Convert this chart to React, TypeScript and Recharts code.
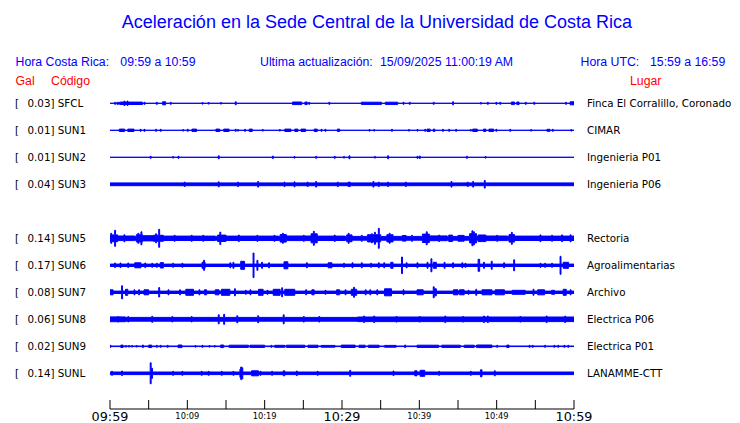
import { ComposedChart, Area, XAxis, YAxis } from "recharts";

type Spike = [number, number];
type Burst = [number, number, number];

// stations, top to bottom (SUN4 slot is empty)
const CODES = ["SFCL", "SUN1", "SUN2", "SUN3", "SUN5", "SUN6", "SUN7", "SUN8", "SUN9", "SUNL"];
const PEAK_GAL = ["0.03", "0.01", "0.01", "0.04", "0.14", "0.17", "0.08", "0.06", "0.02", "0.14"];
const PLACES = [
  "Finca El Corralillo, Coronado",
  "CIMAR",
  "Ingenieria P01",
  "Ingenieria P06",
  "Rectoria",
  "Agroalimentarias",
  "Archivo",
  "Electrica P06",
  "Electrica P01",
  "LANAMME-CTT",
];
// background noise half-width of each trace
const BASE_NOISE = [0, 0, 0, 1.4, 1.9, 1.2, 1.2, 1.9, 0.3, 1.3];

// [minute, half amplitude]
const SFCL_SPIKES: Spike[] = [[0.6, 1], [0.9, 1], [1.1, 1], [1.8, 2.2], [2.2, 2.2], [4.4, 1], [6.0, 1], [7.8, 1], [11.9, 0.8], [12.7, 0.8], [14.3, 0.8], [16.2, 1.5], [25.7, 1], [28.3, 1], [37.9, 1], [38.7, 1], [41.8, 1], [44.3, 1.5], [47.9, 0.8], [48.8, 1], [49.9, 1], [50.4, 1], [53.7, 1], [54.8, 1], [58.9, 1]];
const SUN1_SPIKES: Spike[] = [[3.9, 1], [4.4, 1], [5.9, 1], [6.5, 1], [9.4, 0.8], [10.0, 1], [16.2, 1], [16.5, 0.8], [17.4, 1], [19.7, 0.8], [21.9, 0.8], [27.3, 1], [27.8, 1], [33.5, 0.8], [34.1, 0.8], [36.4, 1], [38.6, 0.8], [39.7, 0.8], [40.7, 1], [43.0, 1], [43.8, 1], [44.7, 1], [46.6, 0.8], [49.9, 1], [51.7, 1], [54.4, 0.8], [57.2, 1], [59.6, 0.8]];
const SUN2_SPIKES: Spike[] = [[5.2, 1], [8.1, 0.8], [8.8, 1], [14.0, 1.5], [21.0, 1.2], [23.8, 0.8], [26.6, 1], [29.0, 1], [30.2, 0.8], [30.9, 1.5], [34.2, 0.8], [35.9, 1.5], [39.7, 1], [40.0, 1.2], [46.1, 1], [48.5, 0.8]];
const SUN3_SPIKES: Spike[] = [[9.6, 2.2], [14.0, 2.5], [16.5, 2.2], [19.1, 2.8], [22.5, 2.2], [23.8, 2.5], [25.5, 2.2], [26.6, 2.8], [29.4, 2.2], [30.8, 2.2], [30.95, 2.2], [34.0, 2.8], [34.7, 2.2], [35.9, 2.2], [38.2, 2.2], [44.1, 2.8], [46.2, 2.2], [46.9, 2.8], [48.4, 3.8]];
const SUN5_SPIKES: Spike[] = [[0.1, 5], [0.6, 8], [1.8, 3.5], [3.6, 5], [4.0, 6.5], [5.9, 4.5], [6.3, 9], [8.3, 3], [10.5, 3], [12.0, 3], [14.2, 6.2], [16.6, 3.3], [19.0, 3], [21.2, 3], [22.3, 5], [25.0, 3], [26.3, 7], [29.0, 3.2], [30.8, 5], [32.5, 3], [33.8, 4.5], [34.2, 6], [34.7, 10], [36.1, 5], [39.0, 3], [40.9, 6.5], [42.5, 3.2], [46.8, 7.5], [47.0, 6.5], [50.0, 3], [51.9, 6], [55.6, 3.4], [57.1, 3], [58.4, 3.4], [59.5, 3.5]];
const SUN6_SPIKES: Spike[] = [[0.6, 2.3], [1.3, 2.3], [2.3, 2.3], [4.5, 2.3], [5.4, 2], [6.0, 2], [8.1, 2], [9.3, 2], [12.1, 5], [15.5, 2.5], [15.9, 3], [18.5, 12.3], [19.0, 5], [19.6, 3], [20.5, 2.5], [25.4, 2.5], [30.2, 2], [31.3, 2.5], [32.5, 2.5], [33.7, 2], [34.7, 2.5], [35.4, 2.5], [37.7, 8.3], [38.3, 2.5], [39.7, 2.5], [41.0, 3], [41.5, 6.5], [43.2, 3], [44.3, 2.5], [45.5, 2.5], [45.9, 2], [48.3, 3], [49.3, 4], [50.9, 2.5], [52.2, 5.5], [55.6, 2], [56.2, 2], [57.1, 2], [58.2, 9]];
const SUN7_SPIKES: Spike[] = [[1.5, 6.5], [3.1, 2.5], [3.7, 2.5], [6.3, 4.7], [7.5, 2.5], [9.0, 2.5], [11.5, 2.5], [16.1, 3.5], [17.5, 2], [18.1, 2.5], [20.3, 2], [22.2, 4.5], [25.3, 2.5], [27.8, 2], [29.5, 2.5], [30.4, 2.5], [31.5, 5], [33.0, 2.5], [33.6, 2.5], [34.5, 2.5], [37.9, 2.5], [41.8, 5.5], [46.3, 2], [47.3, 3], [54.7, 3], [59.5, 2.5]];
const SUN8_SPIKES: Spike[] = [[1.0, 2.8], [2.3, 2.7], [5.4, 3], [8.0, 2.7], [10.5, 2.7], [14.0, 4.5], [14.7, 5], [16.4, 3.5], [19.1, 3.5], [22.4, 4.5], [25.0, 2.8], [27.0, 2.8], [32.8, 3.2], [34.1, 3.3], [37.0, 2.8], [40.0, 2.8], [43.3, 3.3], [45.6, 2.8], [48.3, 3.3], [48.8, 3.3], [53.0, 2.8], [56.4, 3.3], [58.8, 3.2]];
const SUN9_SPIKES: Spike[] = [[0, 1], [2.0, 0.8], [2.4, 0.8], [2.8, 0.8], [3.4, 0.8], [4.2, 1.3], [6.0, 1], [6.5, 1], [7.4, 1], [11.0, 0.8], [11.9, 1], [12.8, 0.8], [13.5, 0.8], [20.8, 1], [38.1, 1.3], [50.0, 1], [54.2, 1], [54.6, 1], [56.2, 1], [57.4, 1], [57.9, 1], [58.7, 1], [59.2, 1]];
const SUNL_SPIKES: Spike[] = [[0.2, 2], [1.5, 2.3], [5.2, 10.5], [8.1, 2], [9.3, 2], [11.8, 2], [12.7, 2], [14.4, 2], [15.9, 2], [16.9, 6.3], [17.05, 5.5], [19.4, 2], [20.9, 2], [24.1, 2.3], [26.8, 2], [31.0, 3], [36.6, 2.3], [42.5, 2], [46.6, 2], [49.7, 2.5]];

// [start minute, end minute, half amplitude]
const SFCL_BURSTS: Burst[] = [[1.3, 4.2, 1.2], [6.8, 7.2, 1.5], [23.6, 24.8, 1.3], [25.2, 25.5, 1.3], [32.5, 35.1, 1.1], [35.6, 37.2, 1.1], [51.9, 52.3, 1.3], [52.6, 52.9, 1.3], [59.5, 60, 1.5]];
const SUN1_BURSTS: Burst[] = [[1.2, 1.9, 1.2], [2.3, 3.1, 1.2], [10.6, 11.2, 1.2], [13.7, 14.2, 1.2], [14.7, 15.4, 1.2], [18.0, 18.4, 1.2], [22.6, 23.4, 1.2], [23.9, 24.3, 1.2], [24.7, 25.3, 1.2], [26.4, 26.8, 1.2], [29.4, 29.7, 1.2], [41.0, 41.4, 1.2], [41.8, 42.0, 1.2], [46.9, 47.5, 1.2], [48.3, 48.6, 1.2], [49.0, 49.6, 1.2], [56.5, 56.9, 1]];
const SUN2_BURSTS: Burst[] = [];
const SUN3_BURSTS: Burst[] = [];
const SUN5_BURSTS: Burst[] = [[0, 1.0, 3.4], [1.0, 3.2, 2.3], [3.4, 4.2, 3.6], [4.2, 5.6, 2.6], [5.6, 6.9, 3.0], [6.9, 13.6, 2.2], [13.9, 15.0, 3.2], [15.0, 21.8, 2.2], [22.0, 22.8, 3.8], [22.8, 26.0, 2.3], [26.0, 26.8, 4.5], [26.8, 30.4, 2.2], [30.6, 31.3, 3.4], [33.3, 35.0, 3.6], [35.8, 36.6, 3.6], [37.8, 38.3, 2.8], [40.4, 41.3, 4.2], [41.3, 43.6, 2.4], [43.8, 44.3, 3.2], [45.0, 45.8, 2.9], [46.5, 47.4, 4.6], [47.6, 48.6, 3.3], [48.6, 51.4, 2.3], [51.6, 52.3, 3.8], [52.3, 60, 2.2]];
const SUN6_BURSTS: Burst[] = [[3.2, 4.0, 2.5], [6.5, 6.9, 2.7], [11.9, 12.3, 3], [16.9, 17.4, 4], [22.5, 23.0, 3.5], [28.2, 28.7, 2.5], [36.3, 36.6, 3], [41.8, 42.2, 3], [47.6, 47.8, 6], [58.6, 59.3, 3]];
const SUN7_BURSTS: Burst[] = [[0, 0.4, 2.5], [2.0, 2.3, 3], [4.4, 5.0, 2.5], [9.8, 10.8, 3], [12.2, 12.5, 2.5], [13.6, 14.1, 2.5], [14.4, 15.5, 3], [19.2, 19.8, 3], [21.1, 22.0, 3], [22.6, 23.9, 3], [26.1, 26.4, 2.5], [29.3, 29.7, 2.5], [31.2, 31.9, 3], [35.5, 36.4, 3.5], [39.7, 40.5, 2.5], [41.9, 42.2, 3.5], [44.4, 45.0, 2.5], [45.2, 45.8, 2.5], [48.1, 49.4, 2.5], [49.8, 51.0, 2.5], [52.0, 53.7, 2], [55.3, 56.2, 2.5], [57.1, 57.5, 2], [58.6, 59.0, 3]];
const SUN8_BURSTS: Burst[] = [[0, 2.0, 2.4], [32.0, 60, 2.3]];
const SUN9_BURSTS: Burst[] = [[1.4, 1.7, 1.2], [5.0, 5.4, 1.2], [8.8, 9.3, 1.3], [14.3, 14.7, 1.3], [15.4, 17.9, 1.1], [18.1, 20.0, 1.1], [21.3, 22.6, 1.0], [22.8, 25.2, 1.1], [25.6, 26.9, 1.1], [27.3, 29.1, 0.9], [29.9, 31.7, 1.2], [32.2, 33.0, 1.1], [33.4, 34.8, 1.1], [35.5, 37.0, 0.9], [39.7, 42.5, 1.1], [42.9, 45.3, 1.1], [45.8, 47.1, 1.1], [47.4, 49.4, 1.3], [51.3, 51.6, 1.2]];
const SUNL_BURSTS: Burst[] = [[5.2, 5.5, 5], [16.8, 17.1, 4], [18.3, 19.2, 2.5], [22.4, 22.6, 2.5], [39.4, 39.7, 2.5], [40.1, 40.7, 3], [47.9, 48.1, 3.5]];

const SPIKES = [SFCL_SPIKES, SUN1_SPIKES, SUN2_SPIKES, SUN3_SPIKES, SUN5_SPIKES, SUN6_SPIKES, SUN7_SPIKES, SUN8_SPIKES, SUN9_SPIKES, SUNL_SPIKES];
const BURSTS = [SFCL_BURSTS, SUN1_BURSTS, SUN2_BURSTS, SUN3_BURSTS, SUN5_BURSTS, SUN6_BURSTS, SUN7_BURSTS, SUN8_BURSTS, SUN9_BURSTS, SUNL_BURSTS];

const TICK_MINUTES = [0, 5, 10, 15, 20, 25, 30, 35, 40, 45, 50, 55, 60];
const LABELED_MINUTES = [0, 10, 20, 30, 40, 50, 60];
const TICK_LABELS = ["09:59", "10:09", "10:19", "10:29", "10:39", "10:49", "10:59"];
const MAJOR_LABEL = [true, false, false, true, false, false, true];

// layout
const ROW_SLOTS = [0, 1, 2, 3, 5, 6, 7, 8, 9, 10];
const ROW_TOP = 103.3;
const ROW_STEP = 27;
const SPIKE_W = 0.12;
const BLUE = "#0000ff";

function envelope(center: number, base: number, spikes: Spike[], bursts: Burst[]) {
  const spans: Burst[] = [
    ...spikes.map(([t, a]) => [t, t + SPIKE_W, a] as Burst),
    ...bursts,
  ];
  const cuts = Array.from(
    new Set([0, 60, ...spans.flatMap((s) => [s[0], Math.min(s[1], 60)])])
  ).sort((a, b) => a - b);
  return cuts.map((t) => {
    let a = base;
    for (const [s, e, amp] of spans) if (t >= s && t < e) a = Math.max(a, amp);
    return { t, band: [center - a, center + a] };
  });
}

const TimeTick = (props: any) => {
  const { x, y, payload } = props;
  const i = LABELED_MINUTES.indexOf(payload.value);
  const major = i >= 0 && MAJOR_LABEL[i];
  return (
    <g>
      <line x1={x} x2={x} y1={y - 9} y2={y} stroke="#000" />
      {i >= 0 && (
        <text
          x={x}
          y={y + (major ? 11.8 : 10)}
          textAnchor="middle"
          fontFamily="DejaVu Sans"
          fontSize={major ? 12.8 : 8.3}
          fill="#000"
        >
          {TICK_LABELS[i]}
        </text>
      )}
    </g>
  );
};

const head = { fontFamily: "'Liberation Sans', Arial, sans-serif", fontSize: 12.3 };
const lab = { fontFamily: "'DejaVu Sans', sans-serif", fontSize: 10.3, fill: "#000" };

export default function App() {
  const rows = CODES.map((code, i) => {
    const center = ROW_TOP + ROW_STEP * ROW_SLOTS[i];
    return { code, center, data: envelope(center, BASE_NOISE[i], SPIKES[i], BURSTS[i]) };
  });

  return (
    <div style={{ position: "absolute", left: 0, top: 0, width: 740, height: 423, background: "#fff" }}>
      <ComposedChart
        width={740}
        height={423}
        margin={{ top: 90, right: 166, bottom: 0, left: 110 }}
      >
        <XAxis
          dataKey="t"
          type="number"
          domain={[0, 60]}
          allowDataOverflow
          ticks={TICK_MINUTES}
          interval={0}
          height={14}
          tickSize={0}
          tickMargin={0}
          tickLine={false}
          axisLine={{ stroke: "#000" }}
          tick={<TimeTick />}
        />
        <YAxis type="number" domain={[90, 409]} reversed hide allowDataOverflow />
        {rows.map((r) => (
          <Area
            key={r.code}
            data={r.data}
            dataKey="band"
            type="stepAfter"
            stroke={BLUE}
            strokeWidth={1}
            fill={BLUE}
            fillOpacity={1}
            dot={false}
            activeDot={false}
            isAnimationActive={false}
          />
        ))}
      </ComposedChart>

      <svg
        width={740}
        height={423}
        style={{ position: "absolute", left: 0, top: 0, pointerEvents: "none" }}
      >
        <text x={377} y={28} textAnchor="middle" fontFamily="'Liberation Sans', Arial, sans-serif" fontSize={18} fill={BLUE}>
          Aceleración en la Sede Central de la Universidad de Costa Rica
        </text>
        <text x={15.5} y={65.5} {...head} fill={BLUE}>Hora Costa Rica:</text>
        <text x={120.3} y={65.5} {...head} fill={BLUE}>09:59 a 10:59</text>
        <text x={260} y={65.5} {...head} fill={BLUE}>Ultima actualización:</text>
        <text x={380} y={65.5} {...head} fill={BLUE}>15/09/2025 11:00:19 AM</text>
        <text x={580.5} y={65.5} {...head} fill={BLUE}>Hora UTC:</text>
        <text x={650} y={65.5} {...head} fill={BLUE}>15:59 a 16:59</text>
        <text x={15.5} y={84.5} {...head} fill="red">Gal</text>
        <text x={51} y={84.5} {...head} fill="red">Código</text>
        <text x={630} y={84.5} {...head} fill="red">Lugar</text>
        {rows.map((r, i) => (
          <g key={r.code}>
            <text x={15} y={r.center + 3.8} {...lab}>[</text>
            <text x={27.5} y={r.center + 3.8} {...lab}>{PEAK_GAL[i]}] {r.code}</text>
            <text x={587} y={r.center + 3.8} {...lab}>{PLACES[i]}</text>
          </g>
        ))}
      </svg>
    </div>
  );
}
